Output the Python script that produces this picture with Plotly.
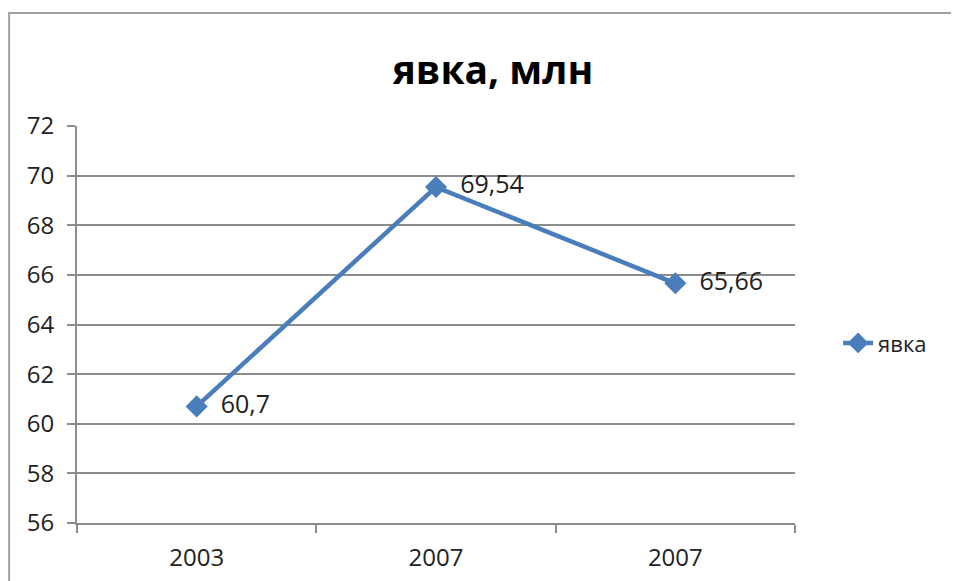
import plotly.graph_objects as go

# data
years = ["2003", "2007", "2007"]
turnout = [60.7, 69.54, 65.66]
labels = ["60,7", "69,54", "65,66"]
y_ticks = list(range(56, 73, 2))

FONT = "Open Sans"
BLUE = "#4a7ebb"
GRID = "#8c8c8c"

xpos = list(range(len(years)))
bounds = [i - 0.5 for i in range(len(years) + 1)]

fig = go.Figure()
fig.add_trace(go.Scatter(
    x=xpos, y=turnout,
    mode="lines+markers+text",
    name="явка",
    text=labels,
    texttemplate="\u2002%{text}",
    textposition="middle right",
    textfont=dict(family=FONT, size=25, color="#222222"),
    line=dict(color=BLUE, width=4.5),
    marker=dict(symbol="diamond", size=17, color=BLUE),
    cliponaxis=False,
))

# chart frame (Excel-style border)
fig.add_shape(type="rect", xref="paper", yref="paper",
              x0=-0.0945, x1=1.4, y0=-0.3, y1=1.2846,
              line=dict(color="#a0a0a0", width=2), layer="below")

fig.update_layout(
    width=951, height=573,
    margin=dict(l=69, r=164, t=118, b=58),
    paper_bgcolor="white", plot_bgcolor="white",
    title=dict(text="<b>явка, млн</b>", x=0.51, xanchor="center",
               y=0.892, yanchor="middle",
               font=dict(family=FONT, size=39, color="black")),
    font=dict(family=FONT, size=24, color="#222222"),
    showlegend=True,
    legend=dict(x=1.06, y=0.453, xanchor="left", yanchor="middle",
                font=dict(family=FONT, size=22, color="#222222"),
                itemwidth=30, bgcolor="rgba(0,0,0,0)"),
    xaxis=dict(range=[-0.5, len(years) - 0.5], tickvals=xpos, ticktext=years,
               showgrid=False, zeroline=False, showline=True,
               linecolor=GRID, linewidth=2, ticks="", automargin=False,
               minor=dict(tickvals=bounds, ticks="outside", ticklen=8,
                          tickcolor=GRID, tickwidth=2, showgrid=False),
               ticklabelstandoff=12,
               tickfont=dict(family=FONT, size=24, color="#222222")),
    yaxis=dict(range=[56, 72], tickvals=y_ticks, showgrid=True,
               gridcolor=GRID, gridwidth=1.5, zeroline=False,
               showline=True, linecolor=GRID, linewidth=2, automargin=False,
               ticks="outside", ticklen=8, tickcolor=GRID, tickwidth=2,
               ticklabelstandoff=8,
               tickfont=dict(family=FONT, size=24, color="#222222")),
)

fig.write_html("out.html")
